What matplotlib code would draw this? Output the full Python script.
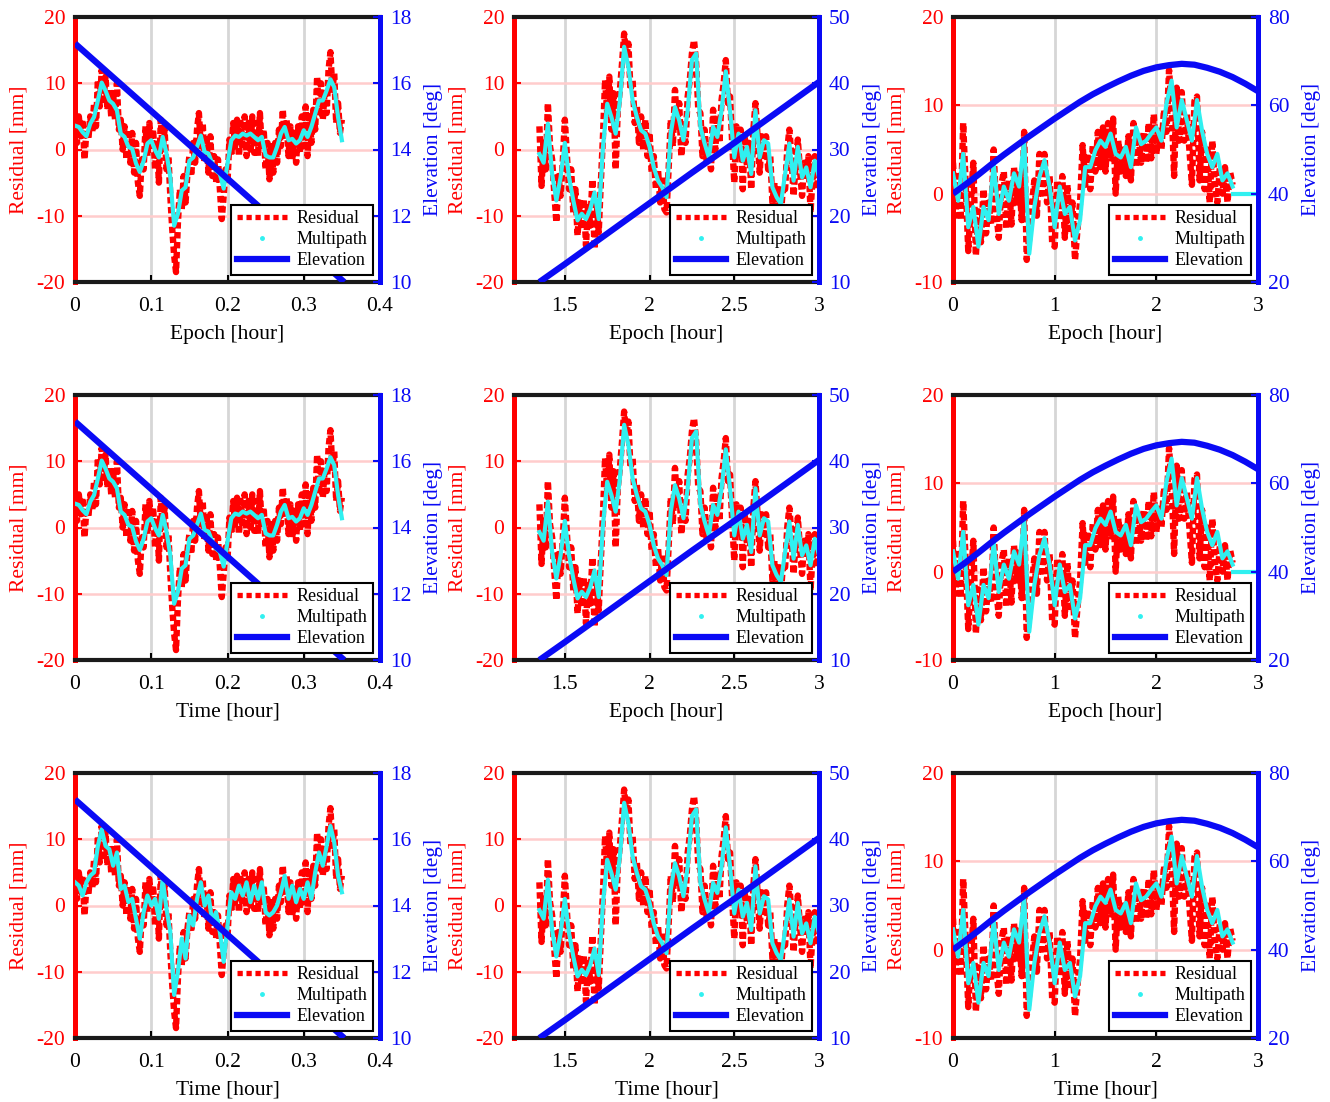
import numpy as np
import matplotlib.pyplot as plt
from matplotlib.lines import Line2D

plt.rcParams['font.family'] = ['Liberation Serif', 'DejaVu Serif']

# ---------------- column 1 : short arc (0 - 0.35 h) ----------------
t_res_a = np.linspace(0, 0.35, 141)
res_a = [4.5, 1.0, 5.0, 2.0, 4.5, -1.5, 3.0, 1.5, 5.0, 2.5,
         7.0, 3.5, 10.5, 6.5, 12.0, 7.5, 11.0, 6.0, 9.0, 5.0,
         8.5, 4.5, 10.0, 3.0, 4.5, 0.0, 3.5, -1.5, 3.0, -2.0,
         2.5, -3.5, 1.0, -5.0, -7.0, -1.5, -3.0, 3.5, -1.0, 4.0,
         0.0, 3.0, -3.0, 1.5, -5.0, 4.5, 0.0, 3.0, -3.0, -1.0,
         -7.0, -12.0, -16.0, -18.5, -11.0, -6.0, -9.0, -4.0, -8.0, -3.5,
         -1.0, -4.0, 1.0, -2.0, 3.0, 5.5, 0.5, 4.0, -2.0, 1.5,
         -3.5, 2.0, -4.0, -1.0, -5.0, -1.5, -6.0, -10.5, -7.0, -3.0,
         -5.0, 1.5, -1.0, 4.0, 0.5, 4.5, -1.0, 4.0, 0.0, 5.0,
         -1.0, 4.0, 0.0, 5.0, -0.5, 4.0, -1.0, 5.5, 0.0, 3.0,
         -3.0, 1.0, -4.5, 0.5, -3.5, 1.0, -2.0, 3.0, 0.5, 6.0,
         1.5, 4.5, -1.0, 3.5, -1.5, 3.0, -2.0, 3.5, -0.5, 5.0,
         0.5, 6.5, -1.0, 5.0, 1.0, 6.0, 3.0, 11.0, 5.0, 10.0,
         4.5, 9.0, 5.5, 12.0, 14.7, 9.0, 11.5, 4.0, 7.0, 2.5,
         4.5]
t_mp_a = np.linspace(0, 0.35, 71)
mp_a = [3.6, 3.4, 2.6, 2.0, 3.9, 4.9, 7.4, 10.1, 8.9, 7.4,
        6.9, 5.9, 2.4, 1.9, 0.4, 0.1, -2.1, -3.4, -1.7, 0.9,
        1.4, -0.1, -1.2, 1.9, -0.6, -4.2, -11.5, -9.7, -6.2, -5.7,
        -1.7, -1.2, 0.4, 2.1, -0.4, -0.6, -2.1, -3.2, -3.7, -5.9,
        -2.1, 1.4, 2.1, 1.9, 2.4, 2.1, 2.4, 1.9, 1.4, 1.9,
        -0.9, -1.2, -1.2, 0.4, 2.4, 3.4, 1.4, 1.6, 0.9, 1.4,
        2.9, 1.9, 3.4, 5.4, 7.4, 7.4, 8.9, 10.6, 9.4, 4.9,
        1.4]
mp_a_row3 = [3.5, 3.0, 1.5, 3.5, 4.5, 5.0, 9.0, 11.5, 9.0, 8.5,
             6.0, 8.0, 2.5, 3.0, 0.5, 1.0, -2.0, -5.0, -1.0, 1.5,
             0.0, 1.0, -2.0, 4.0, -0.5, -4.0, -13.5, -10.0, -5.0, -8.0,
             -1.5, -3.0, 1.0, 3.5, 0.0, 1.5, -2.5, -1.0, -4.0, -8.5,
             -3.0, 2.0, 1.0, 3.0, 1.5, 3.5, 0.5, 3.0, 1.0, 3.5,
             -1.0, -1.5, -1.0, 0.0, 2.0, 4.5, 1.0, 3.0, 0.5, 2.5,
             1.0, 3.5, 1.0, 5.0, 8.0, 6.0, 9.0, 12.0, 9.5, 4.5,
             2.0]
t_el_a = [0, 0.05, 0.10, 0.15, 0.20, 0.25, 0.30, 0.353]
el_a = [17.2, 16.18, 15.16, 14.14, 13.12, 12.1, 11.08, 10.0]

# ---------------- column 2 : rising arc (1.35 - 3 h) ----------------
t_res_b = np.linspace(1.35, 3.0, 133)
res_b = [3.5, -5.5, 1.0, -3.0, 7.0, 0.5, -1.5, -6.5, -11.0, -4.0,
         -7.0, -2.0, 4.5, -1.0, -6.0, -3.0, -9.5, -6.0, -13.0, -8.0,
         -12.0, -7.5, -14.5, -8.0, -11.5, -4.5, -15.0, -8.0, -12.5, -5.0,
         2.0, 10.5, 5.5, 11.0, 3.0, 8.5, -3.0, 6.0, 9.0, 13.0,
         17.5, 14.0, 16.0, 9.0, 10.5, 4.0, 6.5, 1.0, 5.0, 0.0,
         4.5, -1.0, 2.5, -3.5, -1.0, -6.0, -3.0, -8.0, -4.0, -9.0,
         -9.5, -3.0, 4.5, 0.5, 9.0, 3.5, 7.0, -1.0, 3.5, 1.0,
         8.0, 10.5, 14.5, 16.5, 13.0, 6.0, 5.5, -1.0, 3.0, -2.0,
         1.0, -3.0, 6.0, 0.0, 4.5, 1.0, 7.5, 10.0, 13.5, 7.0,
         8.0, 1.0, -5.0, 3.5, -1.0, 3.0, -6.0, 2.0, -2.5, 1.0,
         -6.0, 3.0, 7.0, 2.0, -3.5, 2.0, -1.0, 2.0, -3.0, -1.0,
         -8.0, -5.0, -9.5, -6.0, -10.0, -5.5, -6.0, 0.0, 3.0, -1.0,
         -7.0, -2.0, 1.5, -3.0, -7.0, -2.0, -4.0, -1.0, -9.5, -4.0,
         -1.0, -6.0, -2.5]
t_mp_b = np.linspace(1.35, 3.0, 67)
mp_b = [-0.7, -2.0, 3.9, -3.7, -7.7, -4.2, 1.0, -4.2, -7.7, -10.7,
        -9.7, -10.5, -9.0, -6.5, -10.5, 0.4, 6.9, 4.9, 2.4, 7.4,
        15.5, 12.5, 7.4, 4.9, 2.9, 2.4, 0.4, -2.7, -4.7, -5.7,
        -7.2, 2.4, 6.4, 4.4, 1.4, 5.9, 13.5, 14.5, 3.4, 0.9,
        -1.2, 3.4, 1.9, 5.9, 11.8, 5.9, -1.2, 2.4, -1.7, 0.4,
        -3.7, 5.9, -1.2, 1.4, 0.9, -5.7, -7.2, -8.2, -3.7, 0.9,
        -4.7, 0.4, -4.2, -2.7, -5.7, -1.7, -4.2]
t_el_b = [1.35, 1.5, 1.75, 2.0, 2.25, 2.5, 2.75, 3.0]
el_b = [10.0, 12.7, 17.3, 21.9, 26.5, 31.0, 35.6, 40.2]

# ---------------- column 3 : high arc (0 - 2.75 h) ----------------
t_res_c = np.linspace(0, 2.75, 111)
res_c = [3.5, -2.5, 2.0, -3.0, 8.0, 1.0, -6.5, -1.0, 3.5, -7.0,
         -2.0, -5.5, 0.5, -4.5, -1.0, -3.5, 5.0, -2.0, -5.0, 1.0,
         2.5, -4.0, 1.5, -3.5, 3.0, -1.0, 2.5, -3.0, 7.0, -7.5,
         -5.0, -1.5, 1.5, -2.5, 4.5, 0.0, 4.5, -1.0, 2.0, -5.5,
         -6.0, 1.5, -3.0, 2.0, -5.0, 1.0, -4.0, -1.0, -7.5, -4.0,
         -1.0, 5.5, 1.0, 4.5, 0.5, 5.5, 2.5, 7.0, 3.0, 7.5,
         2.5, 8.0, 4.0, 8.5, 0.0, 6.0, 2.5, 5.0, 2.0, 6.5,
         1.5, 8.0, 3.0, 6.5, 3.5, 7.0, 3.5, 8.0, 4.0, 9.0,
         4.5, 7.5, 5.0, 9.5, 7.0, 14.0, 10.0, 2.0, 12.0, 6.0,
         11.5, 6.0, 9.0, 5.0, 1.0, 10.5, 11.0, 1.5, 7.0, 0.5,
         5.0, -1.0, 6.0, 1.0, -1.0, 3.0, 0.0, 3.0, -1.0, 2.5,
         1.0]
t_mp_c = np.linspace(0, 2.75, 56)
mp_c = [2.3, -0.8, 4.5, -3.8, -1.5, -6.0, -1.5, -3.0, 3.4, -2.3,
        0.8, -0.8, 2.3, 0.8, 6.0, -6.8, -1.5, 1.9, 3.8, 0.8,
        -3.8, 0.8, -2.3, -1.5, -5.3, -3.0, 3.0, 3.0, 4.9, 6.0,
        5.3, 6.8, 4.5, 4.1, 5.3, 3.0, 7.5, 5.6, 6.0, 6.8,
        7.5, 6.0, 10.2, 12.8, 7.5, 10.6, 8.3, 6.0, 10.6, 7.1,
        4.5, 3.0, 4.5, 1.5, 2.3, 0.8]
t_mp_c_tail = [2.75, 3.0]
mp_c_tail = [0.0, 0.0]
t_el_c = np.linspace(0, 3.0, 25)
el_c = [40.0, 42.1, 44.3, 46.6, 48.8, 50.9, 53.0, 55.0, 57.0, 58.9,
        60.8, 62.5, 64.0, 65.4, 66.7, 67.8, 68.6, 69.1, 69.4, 69.2,
        68.5, 67.6, 66.4, 64.9, 63.2]

# axis settings per column
xlims = [(0, 0.4), (1.2, 3.0), (0, 3.0)]
xticks = [[0, 0.1, 0.2, 0.3, 0.4], [1.5, 2, 2.5, 3], [0, 1, 2, 3]]
res_lims = [(-20, 20), (-20, 20), (-10, 20)]
res_ticks = [[-20, -10, 0, 10, 20], [-20, -10, 0, 10, 20], [-10, 0, 10, 20]]
el_lims = [(10, 18), (10, 50), (20, 80)]
el_ticks = [[10, 12, 14, 16, 18], [10, 20, 30, 40, 50], [20, 40, 60, 80]]
xlabels = [["Epoch [hour]", "Epoch [hour]", "Epoch [hour]"],
           ["Time [hour]", "Epoch [hour]", "Epoch [hour]"],
           ["Time [hour]", "Time [hour]", "Time [hour]"]]

RED = '#ff0000'
CYAN = '#30f0f0'
BLUE = '#0a0af5'

W, H = 1330, 1102
lefts = [75, 514, 953]
tops = [17, 395, 773]
aw, ah = 305, 265

fig = plt.figure(figsize=(W / 100, H / 100), dpi=100)

for r in range(3):
    for c in range(3):
        ax = fig.add_axes([lefts[c] / W, 1 - (tops[r] + ah) / H, aw / W, ah / H])

        t_res, res = [(t_res_a, res_a), (t_res_b, res_b), (t_res_c, res_c)][c]
        if c == 0:
            t_mp, mp = t_mp_a, (mp_a_row3 if r == 2 else mp_a)
        elif c == 1:
            t_mp, mp = t_mp_b, mp_b
        else:
            t_mp, mp = t_mp_c, mp_c
        t_el, el = [(t_el_a, el_a), (t_el_b, el_b), (t_el_c, el_c)][c]

        ax.plot(t_res, res, color=RED, lw=4.6, ls=(0, (1, 0.55)),
                dash_capstyle='butt', zorder=2)
        ax.plot(t_mp, mp, color=CYAN, lw=3.0, zorder=3)
        if c == 2 and r < 2:
            ax.plot(t_mp_c_tail, mp_c_tail, color=CYAN, lw=3.0, zorder=3)

        ax.set_xlim(*xlims[c])
        ax.set_xticks(xticks[c])
        ax.set_xticklabels(['%g' % v for v in xticks[c]])
        ax.set_ylim(*res_lims[c])
        ax.set_yticks(res_ticks[c])
        ax.set_yticklabels(['%g' % v for v in res_ticks[c]])
        ax.grid(axis='x', color='#d6d6d6', lw=2)
        ax.grid(axis='y', color='#ffcccc', lw=1.8)
        ax.tick_params(axis='y', colors=RED, direction='in', length=5,
                       width=1.5, labelsize=15.5, pad=7)
        ax.tick_params(axis='x', colors='black', direction='in', length=5,
                       width=1.5, labelsize=15.5, pad=11)
        ax.set_xlabel(xlabels[r][c], fontsize=15.5, labelpad=6)
        ax.set_ylabel('Residual [mm]', color=RED, fontsize=15.5, labelpad=6)

        for s in ['top', 'bottom']:
            ax.spines[s].set_color('#1a1a1a')
            ax.spines[s].set_linewidth(3)
        ax.spines['left'].set_color(RED)
        ax.spines['left'].set_linewidth(3.6)
        ax.spines['right'].set_visible(False)

        ax2 = ax.twinx()
        ax2.plot(t_el, el, color=BLUE, lw=4.5, solid_capstyle='butt', zorder=4)
        ax2.set_ylim(*el_lims[c])
        ax2.set_yticks(el_ticks[c])
        ax2.set_yticklabels(['%g' % v for v in el_ticks[c]])
        ax2.tick_params(axis='y', colors=BLUE, direction='in', length=5,
                        width=1.5, labelsize=15.5, pad=7)
        ax2.set_ylabel('Elevation [deg]', color=BLUE, fontsize=15.5, labelpad=9)
        for s in ['top', 'bottom', 'left']:
            ax2.spines[s].set_visible(False)
        ax2.spines['right'].set_color(BLUE)
        ax2.spines['right'].set_linewidth(3.6)

        handles = [Line2D([], [], color=RED, lw=3.8, ls=(0, (1, 0.7)),
                          dash_capstyle='butt'),
                   Line2D([], [], color=CYAN, marker='.', ls='none', ms=5),
                   Line2D([], [], color=BLUE, lw=4.5)]
        leg = ax2.legend(handles, ['Residual', 'Multipath', 'Elevation'],
                         loc='lower right', fontsize=13, frameon=True,
                         fancybox=False, edgecolor='black', framealpha=1,
                         borderaxespad=0.4, handlelength=2.8, labelspacing=0.22,
                         borderpad=0.3, handletextpad=0.5)
        leg.get_frame().set_linewidth(1.5)

fig.savefig('out.png', dpi=100)
